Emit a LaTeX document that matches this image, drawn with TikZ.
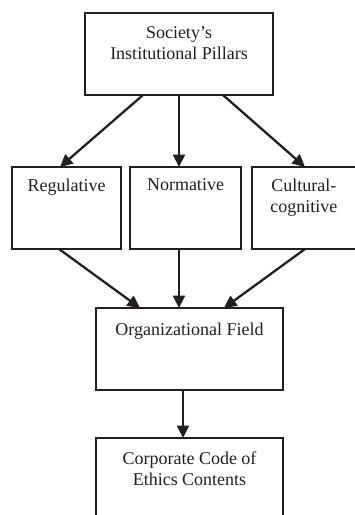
\documentclass[tikz,border=0pt]{standalone}
\usepackage{fontspec}
\setmainfont{Liberation Serif}
\usetikzlibrary{arrows.meta}
\definecolor{ink}{RGB}{35,31,32}
\begin{document}
\begin{tikzpicture}[x=1pt,y=-1pt,
  boxnode/.style={draw=ink, line width=1.8pt, inner sep=0pt, outer sep=0pt, rectangle},
  label/.style={anchor=north, inner sep=0pt, outer sep=0pt, align=center, text=ink, font=\fontsize{18}{21}\selectfont},
  conn/.style={draw=ink, line width=2.3pt, -{Triangle[length=12.5pt,width=12pt]}}]
\useasboundingbox (0,0) rectangle (355,515);
% boxes
\node[boxnode, minimum width=188pt, minimum height=82pt] (top) at (179,54) {};
\node[boxnode, minimum width=109pt, minimum height=82pt] (reg) at (66.5,208) {};
\node[boxnode, minimum width=111pt, minimum height=82pt] (norm) at (185.5,208) {};
\node[boxnode, minimum width=103.5pt, minimum height=82pt] (cult) at (303.75,208) {};
\node[boxnode, minimum width=187pt, minimum height=82pt] (org) at (189.5,349) {};
\node[boxnode, minimum width=187pt, minimum height=84pt] (code) at (189.5,480) {};
% texts
\node[label] (ttop) at (179,26.7) {Society’s\\Institutional Pillars};
\node[label] (treg) at (66.5,178.7) {Regulative};
\node[label] (tnorm) at (185.5,178.7) {Normative};
\node[label] (tcult) at (303.75,178.7) {Cultural-\\cognitive};
\node[label] (torg) at (189.5,322.7) {Organizational Field};
\node[label] (tcode) at (189.5,451.7) {Corporate Code of\\Ethics Contents};
% connectors
\draw[conn] ([xshift=-36pt]top.south) -- ([xshift=-6.5pt]reg.north);
\draw[conn] (top.south) -- ([xshift=-6.5pt]norm.north);
\draw[conn] ([xshift=44pt]top.south) -- ([xshift=1.25pt]cult.north);
\draw[conn] ([xshift=-7.5pt]reg.south) -- ([xshift=-49.5pt]org.north);
\draw[conn] ([xshift=-6.5pt]norm.south) -- ([xshift=-10.5pt]org.north);
\draw[conn] ([xshift=1.25pt]cult.south) -- ([xshift=34.5pt]org.north);
\draw[conn] ([xshift=-6.5pt]org.south) -- ([xshift=-6.5pt]code.north);
\end{tikzpicture}
\end{document}
